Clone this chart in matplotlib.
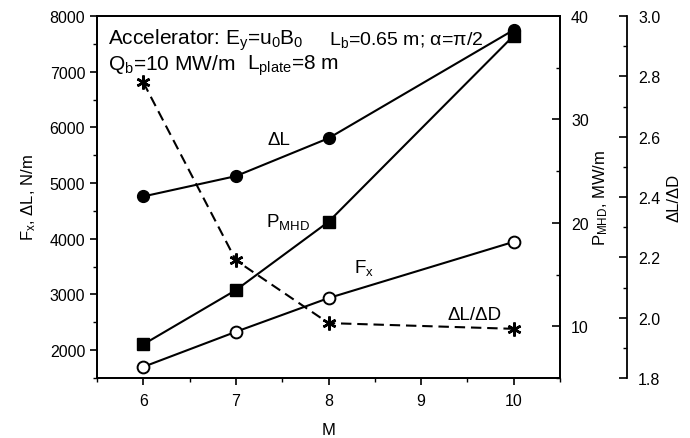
import matplotlib
matplotlib.use("Agg")
import matplotlib.pyplot as plt
from matplotlib.ticker import MultipleLocator, FormatStrFormatter

plt.rcParams['font.family'] = ['Liberation Sans', 'DejaVu Sans']
plt.rcParams['mathtext.default'] = 'regular'

M = [6, 7, 8, 10]
dL = [4760, 5125, 5805, 7750]          # N/m, left axis
Fx = [1700, 2330, 2935, 3945]          # N/m, left axis
P_MHD = [8.25, 13.5, 20.1, 38.1]       # MW/m, right axis
dL_dD = [2.78, 2.19, 1.982, 1.963]     # ratio, far right axis

fig = plt.figure(figsize=(6.9, 4.39), dpi=100)
ax = fig.add_axes([97/690, 1-379/439, 463/690, 362/439])
ax2 = ax.twinx()
ax3 = ax.twinx()
ax3.spines['right'].set_position(('axes', 530/463))

lw = 1.5
ax.plot(M, dL, '-', color='black', lw=lw, marker='o', ms=8.5, mfc='black', zorder=3)
ax.plot(M, Fx, '-', color='black', lw=lw, marker='o', ms=8.5, mfc='white', mew=1.4, zorder=3)
ax2.plot(M, P_MHD, '-', color='black', lw=lw, marker='s', ms=8, mfc='black', zorder=3)
ax3.plot(M, dL_dD, '--', color='black', lw=lw, dashes=(5, 2.8), marker=(6, 2, 0), ms=10, mew=1.8, zorder=3)

ax.set_xlim(5.5, 10.5)
ax.set_ylim(1500, 8000)
ax2.set_ylim(5, 40)
ax3.set_ylim(1.8, 3.0)

ax.xaxis.set_major_locator(MultipleLocator(1))
ax.xaxis.set_minor_locator(MultipleLocator(0.5))
ax.yaxis.set_major_locator(MultipleLocator(1000))
ax.yaxis.set_minor_locator(MultipleLocator(500))
ax2.yaxis.set_major_locator(MultipleLocator(10))
ax2.yaxis.set_minor_locator(MultipleLocator(5))
ax3.yaxis.set_major_locator(MultipleLocator(0.2))
ax3.yaxis.set_minor_locator(MultipleLocator(0.1))
ax3.yaxis.set_major_formatter(FormatStrFormatter('%.1f'))

for a in (ax, ax2, ax3):
    for s in a.spines.values():
        s.set_linewidth(1.3)
ax3.spines['left'].set_visible(False)
ax3.spines['top'].set_visible(False)
ax3.spines['bottom'].set_visible(False)

ax.tick_params(axis='both', which='major', direction='out', length=5, width=1.2, labelsize=11.5)
ax.tick_params(axis='both', which='minor', direction='out', length=3, width=1.0)
ax.tick_params(axis='x', pad=6)
ax2.tick_params(axis='y', which='major', direction='in', length=6, width=1.2, labelsize=11.5, pad=8)
ax2.tick_params(axis='y', which='minor', direction='in', length=3, width=1.0)
ax3.tick_params(axis='y', which='major', direction='in', length=6, width=1.2, labelsize=11.5, pad=8)
ax3.tick_params(axis='y', which='minor', direction='in', length=3, width=1.0)

ax.set_xlabel('M', fontsize=12, labelpad=10)
ax.set_ylabel('F$_x$, ΔL, N/m', fontsize=12, labelpad=8)
ax2.set_ylabel('P$_{MHD}$, MW/m', fontsize=12, labelpad=2)
ax3.set_ylabel('ΔL/ΔD', fontsize=12, labelpad=4)

fs = 15
ax.text(0.024, 0.923, 'Accelerator: E$_y$=u$_0$B$_0$', transform=ax.transAxes, fontsize=fs, va='baseline', ha='left')
ax.text(0.834, 0.923, 'L$_b$=0.65 m; α=π/2', transform=ax.transAxes, fontsize=14, va='baseline', ha='right')
ax.text(0.024, 0.854, 'Q$_b$=10 MW/m', transform=ax.transAxes, fontsize=fs, va='baseline', ha='left')
ax.text(0.324, 0.854, 'L$_{plate}$=8 m', transform=ax.transAxes, fontsize=fs, va='baseline', ha='left')

ax.text(7.46, 5790, 'ΔL', fontsize=13.5, ha='center', va='center')
ax.text(7.33, 4230, 'P$_{MHD}$', fontsize=13.5, ha='left', va='baseline')
ax.text(8.27, 3400, 'F$_x$', fontsize=13.5, ha='left', va='baseline')
ax.text(9.29, 2560, 'ΔL/ΔD', fontsize=13.5, ha='left', va='baseline')

fig.savefig('out.png', dpi=100)
